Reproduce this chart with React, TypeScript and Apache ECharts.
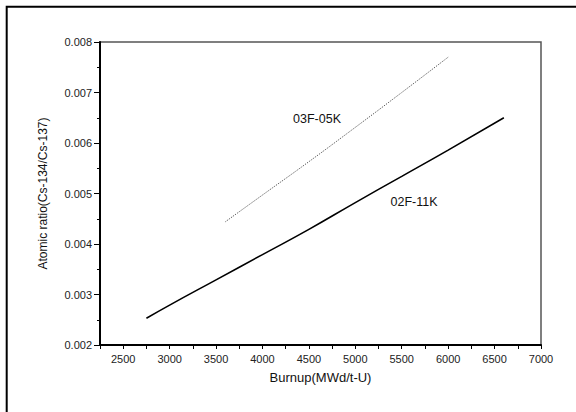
import React, { useEffect, useRef } from "react";
import * as echarts from "echarts";

const burnupA: number[] = [2750, 3000, 3500, 4000, 4500, 5000, 5500, 6000, 6600];
const ratioA: number[] = [0.00253, 0.00279, 0.00329, 0.00379, 0.00429, 0.00482, 0.00534, 0.00586, 0.0065];
const burnupB: number[] = [3600, 4000, 4500, 5000, 5500, 6000];
const ratioB: number[] = [0.00444, 0.00497, 0.00563, 0.00631, 0.007, 0.0077];
const seriesNames: string[] = ["02F-11K", "03F-05K"];
const xName = "Burnup(MWd/t-U)";
const yName = "Atomic ratio(Cs-134/Cs-137)";

const FONT = "'Liberation Sans', Arial, sans-serif";

export default function App() {
  const ref = useRef<HTMLDivElement>(null);
  useEffect(() => {
    if (!ref.current) return;
    const chart = echarts.init(ref.current, undefined, { renderer: "svg" });
    chart.setOption({
      animation: false,
      backgroundColor: "#ffffff",
      textStyle: { fontFamily: FONT },
      grid: {
        left: 100,
        top: 42,
        right: 35,
        bottom: 67,
        show: true,
        borderColor: "#555",
        borderWidth: 1.5,
      },
      xAxis: {
        type: "value",
        min: 2250,
        max: 7000,
        interval: 250,
        name: xName,
        nameLocation: "middle",
        nameGap: 26,
        nameTextStyle: { fontSize: 13, color: "#111", fontFamily: FONT },
        axisLine: { show: true, lineStyle: { color: "#000", width: 2 } },
        axisTick: { show: true, length: 4, lineStyle: { color: "#000", width: 1 } },
        axisLabel: {
          margin: 8,
          fontSize: 11,
          color: "#222",
          fontFamily: FONT,
          formatter: (v: number) => (v % 500 === 0 ? String(v) : ""),
        },
        splitLine: { show: false },
      },
      yAxis: {
        type: "value",
        min: 0.002,
        max: 0.008,
        interval: 0.001,
        name: yName,
        nameLocation: "middle",
        nameGap: 51,
        nameTextStyle: { fontSize: 12, color: "#111", fontFamily: FONT },
        axisLine: { show: true, lineStyle: { color: "#000", width: 2 } },
        axisTick: { show: true, length: 6, lineStyle: { color: "#000", width: 1 } },
        minorTick: { show: true, splitNumber: 2, length: 3, lineStyle: { color: "#000", width: 1 } },
        axisLabel: {
          margin: 8,
          fontSize: 11,
          color: "#222",
          fontFamily: FONT,
          formatter: (v: number) => v.toFixed(3),
        },
        splitLine: { show: false },
      },
      series: [
        {
          name: seriesNames[0],
          type: "line",
          smooth: true,
          showSymbol: false,
          data: burnupA.map((x, i) => [x, ratioA[i]]),
          lineStyle: { color: "#000", width: 1.6 },
          z: 3,
        },
        {
          name: seriesNames[1],
          type: "line",
          smooth: true,
          showSymbol: false,
          data: burnupB.map((x, i) => [x, ratioB[i]]),
          lineStyle: { color: "#444", width: 0.9, type: [1.2, 1.2] },
          z: 3,
        },
      ],
      graphic: [
        {
          type: "rect",
          shape: { x: 6.7, y: 6.7, width: 700, height: 600 },
          style: { fill: "none", stroke: "#000", lineWidth: 2 },
          silent: true,
        },
        {
          type: "text",
          x: 317,
          y: 119,
          style: {
            text: seriesNames[1],
            fontSize: 12.5,
            fontFamily: FONT,
            fill: "#111",
            align: "center",
            verticalAlign: "middle",
          },
        },
        {
          type: "text",
          x: 414,
          y: 202,
          style: {
            text: seriesNames[0],
            fontSize: 12.5,
            fontFamily: FONT,
            fill: "#111",
            align: "center",
            verticalAlign: "middle",
          },
        },
      ],
    });
    return () => chart.dispose();
  }, []);
  return (
    <div
      ref={ref}
      style={{ position: "fixed", left: 0, top: 0, width: 576, height: 412, background: "#fff" }}
    />
  );
}
